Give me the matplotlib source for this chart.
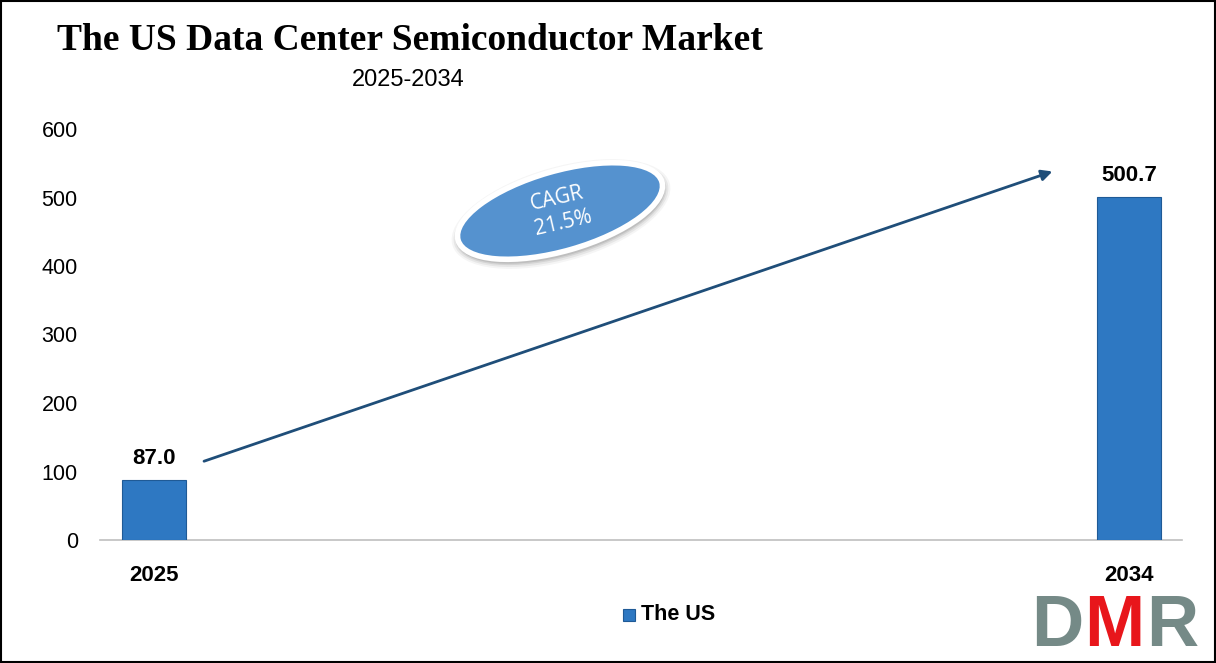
import matplotlib
matplotlib.use("Agg")
import matplotlib.pyplot as plt
from matplotlib.patches import Ellipse, Rectangle, FancyArrowPatch
from matplotlib.transforms import Affine2D
import numpy as np

categories = ["2025", "2034"]
values = [87.0, 500.7]
series_name = "The US"
cagr_text = "CAGR\n21.5%"
yticks = [0, 100, 200, 300, 400, 500, 600]

W, H = 1216, 663
fig = plt.figure(figsize=(W / 100, H / 100), dpi=100)
ax = fig.add_axes([100/W, 123/H, 1082/W, 411/H])
PX = Affine2D()  # display pixels (origin bottom-left)

def py(yy):
    return H - yy

bar_color = "#2E78C2"
bar_edge = "#1F5A96"
x = np.arange(len(categories))
ax.bar(x, values, width=0.0656, color=bar_color, edgecolor=bar_edge, linewidth=0.8, zorder=3)

ax.set_xlim(-0.0554, 1.0544)
ax.set_ylim(0, 600)
ax.set_yticks(yticks)
ax.set_yticklabels([str(t) for t in yticks], fontsize=15.5, family="Liberation Sans")
ax.set_xticks(x)
ax.set_xticklabels(categories, fontsize=16, fontweight="bold", family="Liberation Sans")
ax.tick_params(axis="both", length=0)
ax.tick_params(axis="y", pad=16)
ax.tick_params(axis="x", pad=18)
for s in ["top", "right", "left"]:
    ax.spines[s].set_visible(False)
ax.spines["bottom"].set_color("#BFBFBF")
ax.spines["bottom"].set_linewidth(1.2)

for xi, v in zip(x, values):
    ax.text(xi, v + 16, f"{v:.1f}", ha="center", va="bottom", fontsize=16,
            fontweight="bold", family="Liberation Sans")

# trend arrow
arr = FancyArrowPatch((x[0] + 0.0513, 115), (x[1] - 0.0785, 538),
                      arrowstyle="-|>", mutation_scale=16, color="#1F4E79",
                      linewidth=2, shrinkA=0, shrinkB=0, zorder=4)
ax.add_patch(arr)

# CAGR ellipse in pixel coords
cx, cy = 560, py(211)
ang = 16
for grow, a in [(14, 0.08), (10, 0.12), (6, 0.18), (3, 0.25)]:
    fig.patches.append(Ellipse((cx + 1, cy - 3), 212 + grow, 80 + grow, angle=ang, transform=PX,
                               facecolor="#808080", edgecolor="none", alpha=a, zorder=5))
fig.patches.append(Ellipse((cx, cy), 212, 80, angle=ang, transform=PX,
                           facecolor="#5592CF", edgecolor="white", linewidth=4, zorder=6))
fig.text(cx / W, cy / H, cagr_text, ha="center", va="center", color="white", fontsize=15,
         rotation=13, family="Open Sans", linespacing=1.3, zorder=7)

# title
fig.text(57/W, 1 - 40/H, "The US Data Center Semiconductor Market", ha="left", va="center",
         fontsize=27, fontweight="bold", family="Liberation Serif")
fig.text(408/W, 1 - 80/H, "2025-2034", ha="center", va="center", fontsize=17,
         family="Liberation Sans")

# legend
lx, ly = 629, py(615)
fig.patches.append(Rectangle((lx - 6, ly - 6), 12, 12, transform=PX,
                             facecolor=bar_color, edgecolor=bar_edge, linewidth=0.8))
fig.text(641/W, ly / H, series_name, ha="left", va="center", fontsize=15.5, fontweight="bold",
         family="Liberation Sans")

# logo
logo_y = 2 / H
for letter, lx0, col in [("D", 1031, "#758A87"), ("M", 1084, "#E8161B"), ("R", 1146, "#758A87")]:
    fig.text(lx0 / W, logo_y, letter, ha="left", va="bottom", fontsize=52, fontweight="bold",
             color=col, family="Liberation Sans")

# border
fig.patches.append(Rectangle((1, 1), W - 2, H - 2, transform=PX,
                             facecolor="none", edgecolor="black", linewidth=1.5, zorder=10))

fig.savefig("out.png", dpi=100)
